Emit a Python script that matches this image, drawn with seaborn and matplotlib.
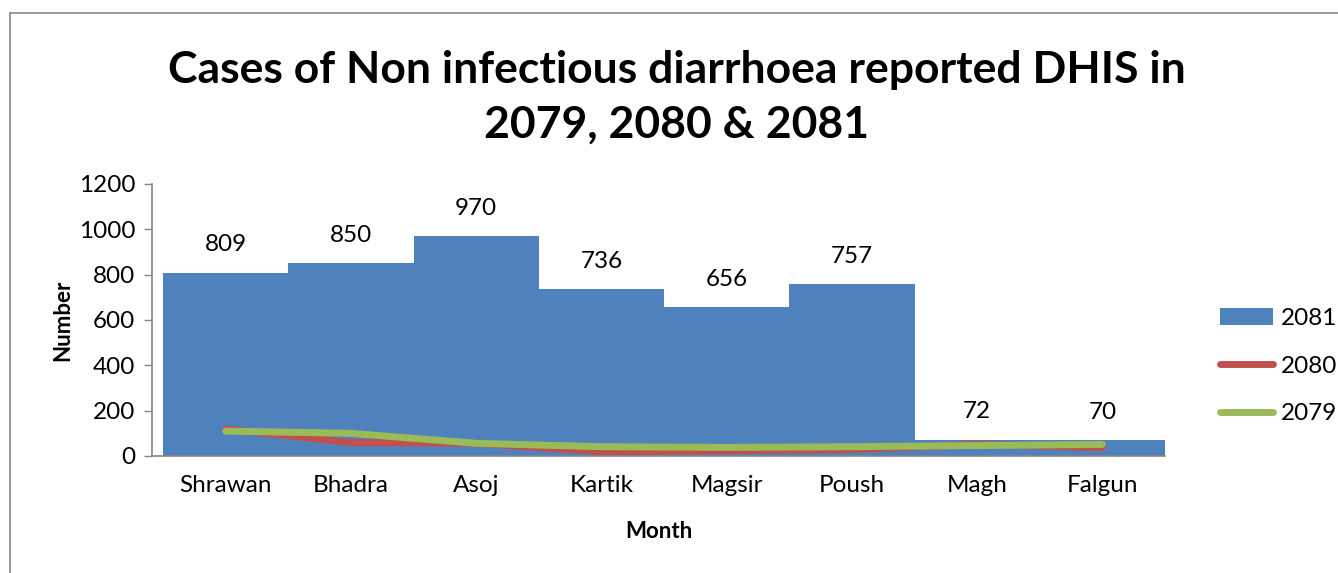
import numpy as np
import pandas as pd
import matplotlib
matplotlib.use("Agg")
import matplotlib.pyplot as plt
import seaborn as sns
from matplotlib.lines import Line2D
from matplotlib.patches import Patch

# data
months = ["Shrawan", "Bhadra", "Asoj", "Kartik", "Magsir", "Poush", "Magh", "Falgun"]
cases_2081 = [809, 850, 970, 736, 656, 757, 72, 70]
cases_2080 = [119, 59, 56, 19, 23, 29, 51, 37]
cases_2079 = [110, 100, 56, 41, 38, 41, 46, 51]

blue = "#4F81BD"
red = "#C0504D"
green = "#9BBB59"

sns.set_theme(style="white")
plt.rcParams["font.family"] = ["Lato", "DejaVu Sans"]
plt.rcParams["text.color"] = "black"
plt.rcParams["axes.labelcolor"] = "black"

df = pd.DataFrame({"Month": months, "2081": cases_2081,
                   "2080": cases_2080, "2079": cases_2079})

fig = plt.figure(figsize=(13.38, 5.73), dpi=100)
ax = fig.add_axes([152 / 1338, 1 - 456 / 573, (1165 - 152) / 1338, (456 - 184) / 573])

sns.barplot(data=df, x="Month", y="2081", color=blue, width=1.0,
            saturation=1, ax=ax, linewidth=0)
x = np.arange(len(months))
ax.plot(x, cases_2080, color=red, lw=5, solid_capstyle="round", solid_joinstyle="round")
ax.plot(x, cases_2079, color=green, lw=5, solid_capstyle="round", solid_joinstyle="round")

for xi, v in zip(x, cases_2081):
    ax.text(xi, v + 123, str(v), ha="center", va="center", fontsize=17.5, color="black")

ax.set_ylim(0, 1200)
ax.set_xlim(-0.588, len(months) - 0.5)
ax.set_yticks(range(0, 1201, 200))
ax.tick_params(axis="both", labelsize=17.5, labelcolor="black", length=6, width=1,
               color="#868686", direction="out")
ax.tick_params(axis="x", length=0, pad=14)
ax.tick_params(axis="y", left=True, pad=6)
for s in ["top", "right"]:
    ax.spines[s].set_visible(False)
for s in ["left", "bottom"]:
    ax.spines[s].set_color("#868686")
    ax.spines[s].set_linewidth(1.2)
ax.set_xlabel("Month", fontsize=16, fontweight="bold", labelpad=18)
ax.set_ylabel("Number", fontsize=16, fontweight="bold", labelpad=4)

fig.text(677 / 1338, 1 - 97 / 573,
         "Cases of Non infectious diarrhoea reported DHIS in\n2079, 2080 & 2081",
         ha="center", va="center", fontsize=32, fontweight="bold", linespacing=1.45)

handles = [Patch(facecolor=blue, edgecolor="none"),
           Line2D([0], [0], color=red, lw=5, solid_capstyle="round"),
           Line2D([0], [0], color=green, lw=5, solid_capstyle="round")]
fig.legend(handles, ["2081", "2080", "2079"], loc="center left",
           bbox_to_anchor=(1198 / 1338, 1 - 366 / 573), frameon=False,
           fontsize=17.5, handlelength=2.2, labelspacing=1.1, handletextpad=0.3)

# chart-area border (left and top edges visible in the reference)
fig.add_artist(Line2D([10 / 1338, 10 / 1338], [0, 1 - 13 / 573],
                      transform=fig.transFigure, color="#868686", lw=1.2))
fig.add_artist(Line2D([10 / 1338, 1], [1 - 13 / 573, 1 - 13 / 573],
                      transform=fig.transFigure, color="#868686", lw=1.2))

fig.savefig("out.png", dpi=100)
